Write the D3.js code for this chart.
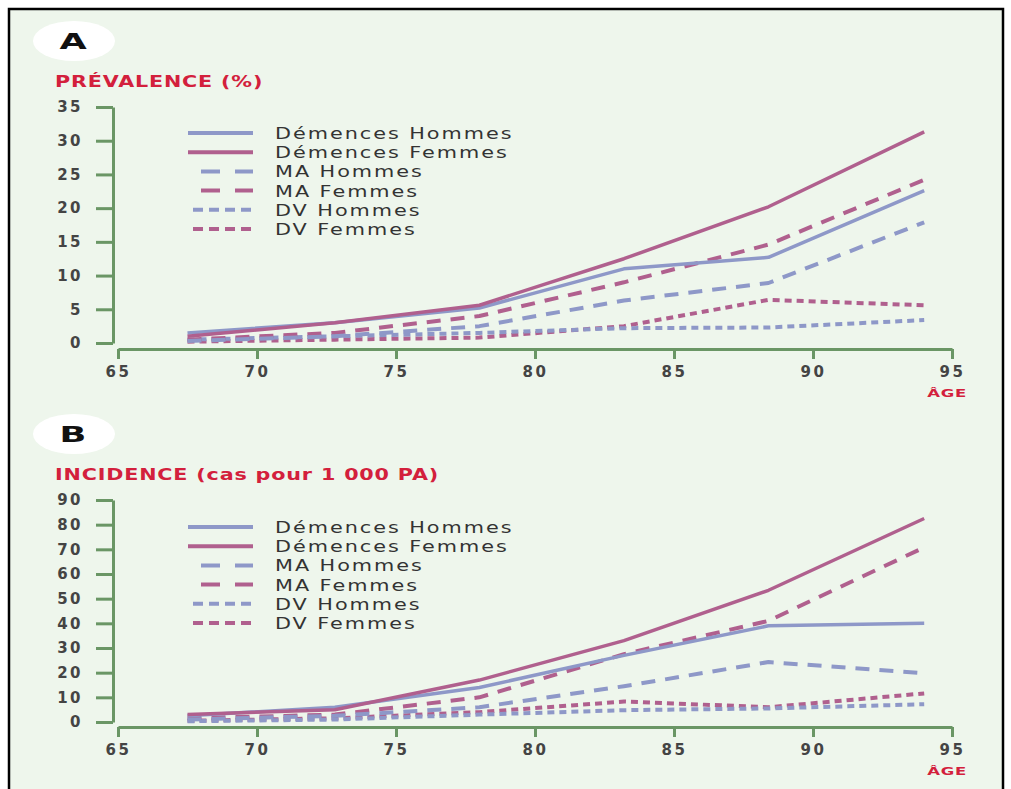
<!DOCTYPE html>
<html>
<head>
<meta charset="utf-8">
<script src="https://cdn.jsdelivr.net/npm/d3@7"></script>
<style>
  body { margin: 0; background: #fff; }
  svg text { font-family: "DejaVu Sans", sans-serif; }
</style>
</head>
<body>
<svg id="chart" width="1011" height="789"></svg>
<script>
// ages (mid-points of age groups)
var ages = [67.5, 72.8, 78, 83.2, 88.4, 94];

var seriesNames = ["Démences Hommes", "Démences Femmes", "MA Hommes", "MA Femmes", "DV Hommes", "DV Femmes"];

// A : prévalence (%)
var prevDemH = [1.5, 3, 5.2, 11, 12.7, 22.6];
var prevDemF = [1, 3, 5.6, 12.5, 20.2, 31.3];
var prevMAH  = [0.3, 1, 2.5, 6.3, 8.9, 17.9];
var prevMAF  = [0.5, 1.5, 4, 9, 14.6, 24.2];
var prevDVH  = [0.5, 1, 1.5, 2.2, 2.3, 3.4];
var prevDVF  = [0.2, 0.5, 0.8, 2.5, 6.4, 5.6];

// B : incidence (cas pour 1 000 PA)
var incDemH = [2.5, 6, 14, 27, 39, 40];
var incDemF = [3, 5, 17, 33, 53.4, 82.5];
var incMAH  = [1, 2.5, 6, 14.5, 24.3, 19.8];
var incMAF  = [1.5, 3, 10, 27.5, 41, 70.8];
var incDVH  = [0.3, 1, 3, 4.8, 5.5, 7.2];
var incDVF  = [0.5, 1.5, 4, 8.3, 6, 11.6];

var xTicks = [65, 70, 75, 80, 85, 90, 95];
var yTicksA = [0, 5, 10, 15, 20, 25, 30, 35];
var yTicksB = [0, 10, 20, 30, 40, 50, 60, 70, 80, 90];

var blue = "#8e98c8", mauve = "#b0608e", green = "#6a9665", red = "#d3203c";
var styles = [
  { color: blue,  dash: null,    legDash: null,    w: 3.5 },
  { color: mauve, dash: null,    legDash: null,    w: 3.5 },
  { color: blue,  dash: "14,10", legDash: "19,15", w: 4 },
  { color: mauve, dash: "14,10", legDash: "19,15", w: 4 },
  { color: blue,  dash: "7,5",   legDash: "10,6",  w: 4 },
  { color: mauve, dash: "7,5",   legDash: "10,6",  w: 4 }
];

var svg = d3.select("#chart");

// background frame
svg.append("rect").attr("x", 9).attr("y", 9).attr("width", 994).attr("height", 782)
  .attr("fill", "#eef6ec").attr("stroke", "#000").attr("stroke-width", 2.5);

var x = d3.scaleLinear().domain([65, 95]).range([118, 952]);

var panels = [
  { letter: "A", title: "PRÉVALENCE (%)", badgeY: 41, titleY: 87,
    series: [prevDemH, prevDemF, prevMAH, prevMAF, prevDVH, prevDVF],
    y: d3.scaleLinear().domain([0, 35]).range([343, 107]), yTicks: yTicksA,
    xAxisY: 349, legendY: 133, ageY: 397 },
  { letter: "B", title: "INCIDENCE (cas pour 1 000 PA)", badgeY: 434, titleY: 480,
    series: [incDemH, incDemF, incMAH, incMAF, incDVH, incDVF],
    y: d3.scaleLinear().domain([0, 90]).range([722, 500]), yTicks: yTicksB,
    xAxisY: 727, legendY: 527, ageY: 775 }
];

panels.forEach(function (p) {
  var g = svg.append("g");

  // letter badge
  g.append("ellipse").attr("cx", 74).attr("cy", p.badgeY).attr("rx", 41).attr("ry", 20).attr("fill", "#fff");
  g.append("text").attr("x", 0).attr("y", 0)
    .attr("transform", "translate(73," + (p.badgeY + 8) + ") scale(1.6,1)")
    .attr("text-anchor", "middle").attr("font-size", 22).attr("font-weight", "bold")
    .attr("fill", "#111").text(p.letter);

  g.append("text").attr("x", 0).attr("y", 0)
    .attr("transform", "translate(55," + p.titleY + ") scale(1.38,1)")
    .attr("font-size", 15).attr("font-weight", "bold").attr("fill", red)
    .attr("letter-spacing", 0.6).text(p.title);

  // y axis
  var yAxis = g.append("g").attr("transform", "translate(113,0)")
    .call(d3.axisLeft(p.y).tickValues(p.yTicks).tickSize(17).tickSizeOuter(0).tickPadding(13));
  // x axis
  var xAxis = g.append("g").attr("transform", "translate(0," + p.xAxisY + ")")
    .call(d3.axisBottom(x).tickValues(xTicks).tickSize(10).tickSizeOuter(0).tickPadding(7));

  [yAxis, xAxis].forEach(function (a) {
    a.select(".domain").attr("stroke", green).attr("stroke-width", 3);
    a.selectAll(".tick line").attr("stroke", green).attr("stroke-width", 3);
    a.selectAll(".tick text").attr("font-size", 15).attr("font-weight", 600)
      .attr("fill", "#444").attr("letter-spacing", 2.5)
      .style("font-family", "'DejaVu Sans', sans-serif");
  });

  g.append("text").attr("x", 0).attr("y", 0)
    .attr("transform", "translate(967," + p.ageY + ") scale(1.5,1)")
    .attr("text-anchor", "end").attr("letter-spacing", 0.5)
    .attr("font-size", 11).attr("font-weight", "bold").attr("fill", red).text("ÂGE");

  // lines
  var line = d3.line().x(function (d, i) { return x(ages[i]); }).y(function (d) { return p.y(d); });
  // draw DV first, then MA, then dementia on top
  [5, 4, 3, 2, 0, 1].forEach(function (k) {
    g.append("path").datum(p.series[k]).attr("d", line)
      .attr("fill", "none").attr("stroke", styles[k].color)
      .attr("stroke-width", styles[k].w).attr("stroke-dasharray", styles[k].dash)
      .attr("stroke-linejoin", "round");
  });

  // legend
  var leg = g.append("g");
  seriesNames.forEach(function (name, k) {
    var ly = p.legendY + k * 19.2;
    var s = styles[k];
    var x0 = k >= 2 && k < 4 ? 201 : (k >= 4 ? 193 : 188);
    leg.append("line").attr("x1", x0).attr("x2", 253).attr("y1", ly).attr("y2", ly)
      .attr("stroke", s.color).attr("stroke-width", 4).attr("stroke-dasharray", s.legDash);
    leg.append("text").attr("x", 0).attr("y", 0)
      .attr("transform", "translate(275," + (ly + 6) + ") scale(1.3,1)")
      .attr("font-size", 16).attr("fill", "#333").attr("letter-spacing", 1.5).text(name);
  });
});
</script>
</body>
</html>
